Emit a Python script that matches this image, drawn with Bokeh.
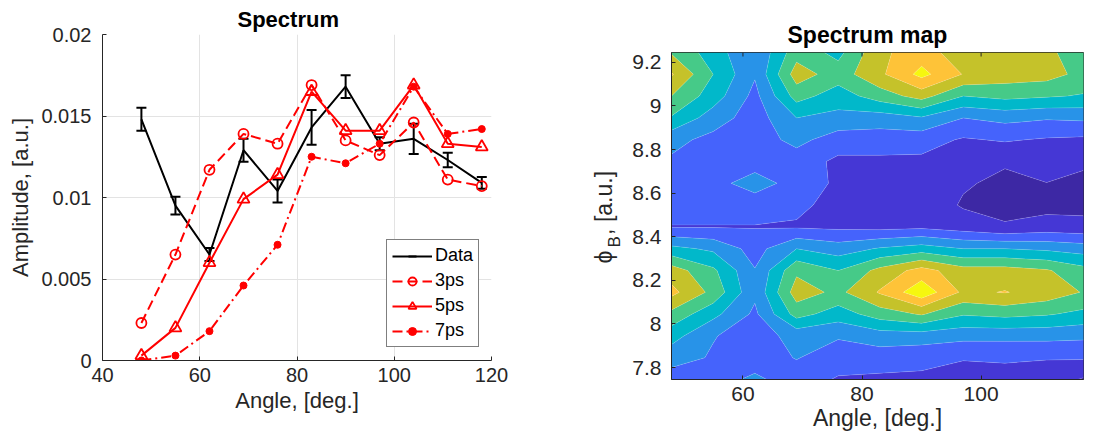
import numpy as np
from bokeh.plotting import figure
from bokeh.layouts import row, column
from bokeh.models import (ColumnDataSource, Whisker, TeeHead, Legend, LegendItem,
                          FixedTicker, NumeralTickFormatter, LinearAxis, Range1d)
from bokeh.embed import file_html
from bokeh.resources import INLINE

FONT = "Liberation Sans"
TXT = "#262626"

# ---------------- left panel data ----------------
angles = [48, 55, 62, 69, 76, 83, 90, 97, 104, 111, 118]
data_amp = [0.0148, 0.0095, 0.0065, 0.0129, 0.0104, 0.0143, 0.0168, 0.0133, 0.0136, 0.0123, 0.0109]
data_err = [0.0007, 0.00054, 0.0004, 0.0007, 0.0007, 0.00107, 0.0007, 0.0004, 0.00093, 0.00045, 0.00036]
amp_3ps = [0.0023, 0.0065, 0.0117, 0.0139, 0.0133, 0.0169, 0.0135, 0.0126, 0.0146, 0.0111, 0.0107]
amp_5ps = [0.0003, 0.0020, 0.0060, 0.0099, 0.0114, 0.0165, 0.0141, 0.0141, 0.0169, 0.0133, 0.0131]
amp_7ps = [0.0000, 0.0003, 0.0018, 0.0046, 0.0071, 0.0125, 0.0121, 0.0133, 0.0168, 0.0139, 0.0142]
x_ticks_left = [40, 60, 80, 100, 120]
y_ticks_left = [0, 0.005, 0.01, 0.015, 0.02]

# ---------------- right panel data ----------------
map_angles = [48, 55, 62, 69, 76, 83, 90, 97, 104, 111, 118]
phi_b = [7.745, 7.845, 7.945, 8.045, 8.145, 8.245, 8.345, 8.445,
         8.545, 8.645, 8.745, 8.845, 8.945, 9.045, 9.145, 9.245]
map_z = [
    [3.0, 3.1, 3.7, 3.0, 2.4, 2.3, 2.3, 2.2, 2.2, 2.1, 1.3],     # 7.745
    [3.9, 3.4, 3.0, 3.55, 3.0, 3.0, 2.8, 2.55, 2.6, 2.55, 2.6],  # 7.845
    [4.9, 3.55, 3.1, 3.8, 3.6, 4.0, 4.0, 3.8, 3.8, 3.8, 3.7],    # 7.945
    [6.2, 4.8, 3.3, 5.9, 5.0, 6.0, 6.6, 5.6, 5.8, 5.6, 5.2],     # 8.045
    [7.8, 6.2, 3.7, 7.0, 6.25, 7.6, 9.2, 7.3, 7.55, 7.1, 6.35],  # 8.145
    [7.0, 5.7, 3.55, 6.3, 5.5, 6.8, 7.9, 6.9, 6.9, 6.6, 5.8],    # 8.245
    [4.8, 4.3, 3.1, 4.5, 4.0, 4.6, 5.0, 4.5, 4.5, 4.3, 4.0],     # 8.345
    [2.45, 2.45, 2.45, 2.4, 2.3, 2.2, 2.3, 2.0, 1.6, 1.9, 1.8],  # 8.445
    [3.0, 3.0, 3.0, 2.7, 2.2, 2.1, 2.1, 1.4, 1.2, 1.2, 1.2],     # 8.545
    [3.1, 3.2, 3.9, 3.15, 2.3, 2.2, 2.2, 1.6, 1.3, 1.48, 1.3],   # 8.645
    [3.35, 3.0, 3.1, 3.0, 2.3, 2.3, 2.3, 2.2, 1.6, 2.1, 1.6],    # 8.745
    [3.8, 3.2, 3.0, 3.8, 3.0, 3.0, 2.9, 2.4, 2.6, 2.4, 2.3],     # 8.845
    [5.4, 4.0, 3.0, 4.5, 4.2, 4.0, 4.4, 3.5, 3.8, 3.6, 3.7],     # 8.945
    [6.5, 5.0, 3.2, 5.9, 5.0, 6.0, 6.9, 5.5, 5.8, 5.6, 5.4],     # 9.045
    [7.6, 5.5, 3.6, 7.0, 6.0, 7.3, 8.8, 7.45, 7.0, 6.9, 6.1],    # 9.145
    [6.4, 5.0, 3.55, 6.1, 5.2, 7.3, 8.0, 6.9, 7.3, 6.6, 6.2],    # 9.245
]
levels = [0, 1.5, 2.5, 3.5, 4.5, 5.5, 6.5, 7.5, 8.5, 10]
palette = ["#3d28a4", "#4537d5", "#4563fc", "#2893e8", "#01b8ca",
           "#46ca88", "#c5c22a", "#fec338", "#f6f70f"]
x_ticks_right = [60, 80, 100]
y_ticks_right = [7.8, 8.0, 8.2, 8.4, 8.6, 8.8, 9.0, 9.2]
# y-axis label of the map, split into pieces so that "B" can be a subscript
ylabel_main = {8.307: "ϕ", 8.555: ", [a.u.]"}
ylabel_sub = {8.376: "B"}


def style_axis(ax, tick_size, label_size, standoff, label_standoff):
    ax.axis_line_color = TXT
    ax.axis_line_width = 1
    ax.major_tick_line_color = TXT
    ax.major_tick_in = 4
    ax.major_tick_out = 0
    ax.minor_tick_line_color = None
    ax.major_label_text_font = FONT
    ax.major_label_text_font_size = tick_size
    ax.major_label_text_color = TXT
    ax.axis_label_text_font = FONT
    ax.axis_label_text_font_style = "normal"
    ax.axis_label_text_font_size = label_size
    ax.axis_label_text_color = TXT
    ax.major_label_standoff = standoff
    ax.axis_label_standoff = label_standoff


def style_title(t, size, offset, standoff=None):
    t.text_font = FONT
    t.text_font_size = size
    t.text_font_style = "bold"
    t.text_color = "black"
    t.align = "left"
    t.offset = offset
    if standoff is not None:
        try:
            t.standoff = standoff
        except AttributeError:
            pass


# ================= left figure =================
p1 = figure(frame_width=389, frame_height=326,
            x_range=Range1d(40, 120), y_range=Range1d(0, 0.02),
            min_border_left=102, min_border_right=54, min_border_top=34, min_border_bottom=83,
            output_backend="svg", toolbar_location=None, title="Spectrum")
style_title(p1.title, "22px", 135, standoff=6)
p1.outline_line_color = None
p1.background_fill_color = "white"
p1.border_fill_color = "white"

p1.xaxis.ticker = FixedTicker(ticks=x_ticks_left)
p1.yaxis.ticker = FixedTicker(ticks=y_ticks_left)
p1.yaxis.formatter = NumeralTickFormatter(format="0.[000]")
p1.xaxis.axis_label = "Angle, [deg.]"
p1.yaxis.axis_label = "Amplitude, [a.u.]"
style_axis(p1.xaxis[0], "20px", "22px", 7, 3)
style_axis(p1.yaxis[0], "20px", "22px", 11, 5)
p1.xgrid.ticker = FixedTicker(ticks=x_ticks_left)
p1.ygrid.ticker = FixedTicker(ticks=y_ticks_left)
p1.grid.grid_line_color = "#e3e3e3"
p1.grid.grid_line_width = 1

src = ColumnDataSource(dict(
    x=angles, y=data_amp,
    upper=[a + e for a, e in zip(data_amp, data_err)],
    lower=[a - e for a, e in zip(data_amp, data_err)],
))
r_data = p1.line("x", "y", source=src, line_color="black", line_width=2)
whisk = Whisker(source=src, base="x", upper="upper", lower="lower",
                line_color="black", line_width=2,
                upper_head=TeeHead(size=10, line_color="black", line_width=2),
                lower_head=TeeHead(size=10, line_color="black", line_width=2))
p1.add_layout(whisk)
leg_src = ColumnDataSource(dict(x=[np.nan], y=[np.nan]))
r_data_leg = p1.scatter("x", "y", source=leg_src, marker="dash", angle=np.pi / 2,
                        size=16, line_color="black", line_width=2)

red = "#ff0000"
r3l = p1.line(angles, amp_3ps, line_color=red, line_width=2, line_dash="10 5")
r3m = p1.scatter(angles, amp_3ps, marker="circle", size=10, line_color=red,
                 fill_color=None, line_width=1.8)
r5l = p1.line(angles, amp_5ps, line_color=red, line_width=2)
r5m = p1.scatter(angles, amp_5ps, marker="triangle", size=12, line_color=red,
                 fill_color=None, line_width=1.8)
r7l = p1.line(angles, amp_7ps, line_color=red, line_width=2, line_dash="10 4 2 4")
r7m = p1.scatter(angles, amp_7ps, marker="circle", size=7, line_color=red,
                 fill_color=red, line_width=1)

legend = Legend(items=[
    LegendItem(label="Data", renderers=[r_data, r_data_leg]),
    LegendItem(label="3ps", renderers=[r3l, r3m]),
    LegendItem(label="5ps", renderers=[r5l, r5m]),
    LegendItem(label="7ps", renderers=[r7l, r7m]),
], location=(284, 13))
legend.border_line_color = "black"
legend.border_line_width = 1
legend.background_fill_color = "white"
legend.background_fill_alpha = 1
legend.padding = 5
legend.spacing = 4
legend.margin = 0
legend.glyph_width = 40
legend.glyph_height = 20
legend.label_height = 20
legend.label_standoff = 3
legend.label_text_font = FONT
legend.label_text_font_size = "18px"
legend.label_text_color = "black"
p1.add_layout(legend)

# ================= right figure =================
y_lo, y_hi = 7.745, 9.245
p2 = figure(frame_width=412, frame_height=327,
            x_range=Range1d(48, 117.2), y_range=Range1d(y_lo, y_hi),
            min_border_left=126, min_border_right=11, min_border_top=52, min_border_bottom=64,
            output_backend="svg", toolbar_location=None, title="Spectrum map")
style_title(p2.title, "23px", 116)
p2.outline_line_color = TXT
p2.outline_line_width = 1
p2.grid.grid_line_color = None
p2.background_fill_color = "white"
p2.border_fill_color = "white"

p2.contour(x=map_angles, y=phi_b, z=np.array(map_z), levels=levels,
           fill_color=palette, line_color="white", line_alpha=0.18, line_width=0.8)

# inward tick marks along the top edge (box on)
tick_len = 4 * (y_hi - y_lo) / 327
p2.segment(x0=x_ticks_right, x1=x_ticks_right, y0=[y_hi] * len(x_ticks_right),
           y1=[y_hi - tick_len] * len(x_ticks_right), line_color=TXT, line_width=1)

p2.xaxis.ticker = FixedTicker(ticks=x_ticks_right)
p2.yaxis.ticker = FixedTicker(ticks=y_ticks_right)
p2.yaxis.formatter = NumeralTickFormatter(format="0.[0]")
p2.xaxis.axis_label = "Angle, [deg.]"
style_axis(p2.xaxis[0], "21px", "23px", 7, 1)
style_axis(p2.yaxis[0], "21px", "23px", 10, 5)


def label_axis(texts, size, standoff):
    ax = LinearAxis(ticker=FixedTicker(ticks=list(texts.keys())),
                    major_label_overrides=dict(texts))
    ax.major_label_orientation = "vertical"
    ax.major_label_text_font = FONT
    ax.major_label_text_font_size = size
    ax.major_label_text_color = TXT
    ax.major_label_standoff = standoff
    ax.axis_line_color = None
    ax.major_tick_line_color = None
    ax.minor_tick_line_color = None
    return ax


ax_sub = label_axis(ylabel_sub, "17px", -1)
ax_main = label_axis(ylabel_main, "23px", -21)
p2.add_layout(ax_sub, "left")
p2.add_layout(ax_main, "left")

layout = row(column(p1), column(p2))
open("out.html", "w").write(file_html(layout, INLINE))
